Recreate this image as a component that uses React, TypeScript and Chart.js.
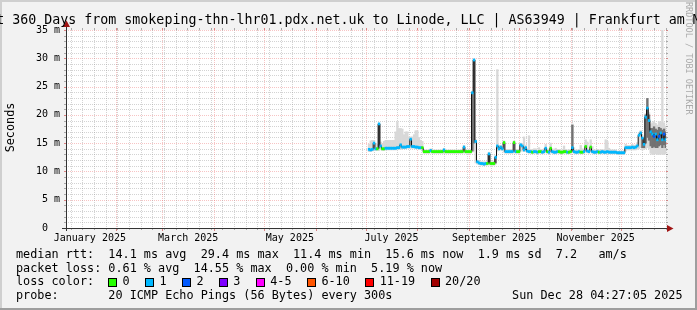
import React, { useEffect, useRef } from 'react';
import { Chart, registerables } from 'chart.js';

Chart.register(...registerables);

const FONT = 'DejaVu Sans Mono';

// ---- time axis (days since 1 Jan 2025) ----
const xMax = 361.185; // Sun Dec 28 04:27
const xMin = xMax - 360; // last 360 days
const monthLabels = ['January 2025', 'March 2025', 'May 2025', 'July 2025', 'September 2025', 'November 2025'];
const monthLabelDays = [15.5, 74.5, 135.5, 196.5, 258, 319];
const monthStartDays = [31, 59, 90, 120, 151, 181, 212, 243, 273, 304, 334];
const firstSunday = 4; // Sun 5 Jan 2025
const firstDataDay = 183; // first day with data (3 Jul 2025)

// ---- y axis ----
const yLabelValues = [0, 5, 10, 15, 20, 25, 30, 35];

// ---- median RTT per day (ms), days 183..361 ----
const medianRtt = [
  13.9, 13.8, 13.9, 15.0, 14.0, 14.0, 18.4, 14.5, 14.0, 14.0,
  14.1, 14.1, 14.1, 14.1, 14.1, 14.1, 14.1, 14.2, 14.2, 14.7,
  14.3, 14.3, 14.3, 14.4, 14.4, 15.7, 14.4, 14.4, 14.3, 14.3,
  14.2, 14.2, 14.2, 13.5, 13.5, 13.5, 13.5, 13.7, 13.5, 13.5,
  13.5, 13.5, 13.5, 13.5, 13.5, 13.8, 13.5, 13.5, 13.5, 13.5,
  13.5, 13.5, 13.5, 13.5, 13.5, 13.5, 13.5, 14.3, 13.5, 13.5,
  13.5, 13.5, 23.9, 29.7, 15.3, 11.7, 11.5, 11.4, 11.4, 11.3,
  11.4, 11.4, 13.1, 11.4, 11.4, 11.4, 12.5, 14.5, 14.0, 14.3,
  14.0, 15.1, 13.5, 13.5, 13.5, 13.5, 13.5, 15.1, 13.5, 13.5,
  13.5, 14.7, 14.5, 13.8, 14.2, 13.6, 13.5, 13.5, 13.4, 13.5,
  13.5, 13.4, 13.5, 13.5, 13.4, 13.5, 14.1, 13.5, 13.4, 14.1,
  13.5, 13.4, 13.4, 13.5, 13.5, 13.4, 13.4, 13.5, 13.5, 13.4,
  13.4, 13.5, 14.2, 13.5, 13.4, 13.4, 13.5, 13.4, 13.4, 13.5,
  14.4, 13.6, 13.5, 14.3, 13.5, 13.4, 13.4, 13.5, 13.4, 13.4,
  13.5, 13.4, 13.4, 13.5, 13.4, 13.4, 13.4, 13.4, 13.4, 13.3,
  13.3, 13.3, 13.3, 13.3, 14.2, 14.2, 14.2, 14.2, 14.3, 14.2,
  14.3, 14.5, 16.4, 16.8, 15.9, 14.8, 19.6, 21.2, 19.0, 17.0,
  16.6, 16.2, 16.6, 15.6, 16.2, 16.8, 15.6, 16.6, 15.6,
];

// ---- loss class per day (index into lossColors) ----
const lossClass = [
  1, 1, 1, 1, 1, 0, 1, 1, 0, 0,
  1, 1, 1, 1, 1, 1, 1, 1, 1, 1,
  1, 1, 1, 1, 1, 1, 1, 1, 1, 1,
  1, 1, 0, 0, 0, 0, 0, 1, 0, 0,
  0, 0, 0, 0, 0, 1, 0, 0, 0, 0,
  0, 0, 0, 0, 0, 0, 0, 1, 0, 0,
  0, 0, 1, 1, 1, 1, 1, 1, 1, 1,
  1, 0, 1, 0, 0, 0, 1, 1, 1, 1,
  1, 0, 1, 1, 1, 1, 1, 0, 1, 0,
  0, 1, 1, 1, 1, 1, 1, 1, 0, 1,
  1, 1, 0, 0, 1, 1, 1, 0, 1, 0,
  1, 1, 1, 1, 0, 0, 0, 0, 0, 1,
  0, 0, 1, 1, 1, 1, 1, 0, 0, 1,
  0, 1, 1, 0, 1, 1, 1, 1, 0, 1,
  1, 1, 1, 1, 1, 1, 1, 1, 1, 1,
  1, 1, 1, 1, 1, 1, 1, 1, 1, 1,
  1, 1, 1, 1, 1, 1, 1, 1, 1, 1,
  1, 2, 1, 1, 2, 1, 1, 2, 1,
];

// ---- smoke (light) range per day ----
const smokeLo = [
  13.5, 13.5, 13.6, 13.7, 13.7, 13.7, 13.7, 13.9, 13.7, 13.7,
  13.8, 13.8, 13.8, 13.8, 13.8, 13.8, 13.8, 13.9, 13.9, 13.9,
  14.0, 14.0, 14.0, 14.1, 14.1, 14.1, 14.1, 14.1, 14.0, 14.0,
  13.9, 13.9, 13.9, 13.2, 13.2, 13.2, 13.2, 13.3, 13.2, 13.2,
  13.2, 13.2, 13.2, 13.2, 13.2, 13.2, 13.2, 13.2, 13.2, 13.2,
  13.2, 13.2, 13.2, 13.2, 13.2, 13.2, 13.2, 13.3, 13.2, 13.2,
  13.2, 13.2, 13.4, 13.6, 11.5, 11.3, 11.2, 11.1, 11.1, 11.0,
  11.1, 11.1, 11.2, 11.1, 11.1, 11.1, 11.3, 13.6, 13.7, 13.8,
  13.7, 13.4, 13.2, 13.2, 13.2, 13.2, 13.2, 13.3, 13.2, 13.2,
  13.2, 13.6, 13.6, 13.5, 13.5, 13.3, 13.2, 13.2, 13.1, 13.2,
  13.2, 13.1, 13.2, 13.2, 13.1, 13.2, 13.4, 13.2, 13.1, 13.4,
  13.2, 13.1, 13.1, 13.2, 13.2, 13.1, 13.1, 13.2, 13.2, 13.1,
  13.1, 13.2, 13.4, 13.2, 13.1, 13.1, 13.2, 13.1, 13.1, 13.2,
  13.6, 13.3, 13.2, 13.6, 13.2, 13.1, 13.1, 13.2, 13.1, 13.1,
  13.2, 13.1, 13.1, 13.2, 13.1, 13.1, 13.1, 13.1, 13.1, 13.0,
  13.0, 13.0, 13.0, 13.0, 13.6, 13.8, 13.8, 13.8, 13.8, 13.8,
  13.8, 13.9, 14.0, 14.2, 13.8, 13.9, 14.0, 14.2, 14.0, 13.2,
  13.0, 13.0, 13.1, 13.0, 13.0, 13.1, 13.0, 13.0, 13.1,
];
const smokeHi = [
  14.8, 15.4, 15.5, 15.5, 15.0, 14.8, 18.4, 15.2, 14.8, 15.3,
  15.5, 15.5, 15.5, 15.5, 15.5, 15.5, 17.0, 18.8, 17.6, 17.6,
  17.5, 16.5, 17.0, 17.0, 16.1, 16.1, 16.1, 16.5, 17.2, 17.2,
  16.0, 15.5, 15.3, 13.9, 13.8, 13.8, 13.8, 14.0, 13.8, 13.8,
  13.8, 13.8, 13.8, 13.8, 13.8, 14.1, 13.8, 13.8, 13.8, 13.8,
  13.8, 13.8, 13.8, 13.8, 13.8, 13.8, 13.9, 14.6, 13.8, 13.8,
  13.8, 13.9, 24.2, 29.8, 15.6, 12.0, 11.8, 11.7, 11.7, 11.7,
  11.7, 11.7, 13.4, 11.7, 11.7, 11.8, 12.8, 28.0, 14.6, 14.6,
  14.4, 15.4, 13.9, 13.9, 13.9, 13.9, 13.9, 15.4, 13.9, 13.9,
  13.9, 15.0, 14.9, 16.1, 14.6, 14.0, 16.3, 13.9, 13.8, 14.0,
  14.0, 13.8, 14.2, 13.9, 13.8, 14.0, 14.8, 14.0, 13.8, 15.0,
  14.0, 13.8, 14.1, 13.9, 13.9, 13.8, 13.8, 14.5, 13.9, 13.8,
  13.8, 13.9, 18.4, 14.2, 13.8, 13.8, 13.9, 14.6, 14.0, 13.9,
  15.6, 15.2, 13.9, 15.6, 14.4, 13.8, 13.8, 13.9, 13.8, 13.8,
  13.9, 13.8, 15.6, 15.3, 14.1, 13.8, 13.8, 13.8, 13.8, 13.6,
  13.6, 13.6, 13.6, 13.7, 14.8, 14.6, 14.6, 14.6, 14.8, 14.6,
  14.7, 15.1, 16.8, 17.2, 16.4, 16.0, 20.2, 22.9, 20.4, 18.3,
  18.6, 18.8, 18.5, 18.2, 18.8, 18.7, 35.0, 18.6, 18.0,
];

// ---- dense (dark) smoke where visible ----
const darkDays = [189, 245, 246, 255, 259, 262, 277, 305, 347, 348, 349, 350, 351, 352, 353, 354, 355, 356, 357, 358, 359, 360, 361];
const darkLo = [14.1, 13.6, 15.0, 11.5, 11.5, 14.0, 13.8, 13.6, 14.2, 14.2, 15.0, 16.0, 15.5, 14.5, 14.2, 14.4, 14.2, 14.2, 14.5, 14.7, 14.2, 14.7, 14.2];
const darkHi = [18.4, 23.9, 29.7, 13.1, 12.5, 14.3, 14.2, 18.2, 16.0, 15.2, 20.0, 22.9, 20.0, 17.6, 17.6, 17.9, 17.5, 17.3, 17.8, 17.6, 17.3, 17.5, 17.0];

// ---- legend ----
const lossLabels = ['0', '1', '2', '3', '4-5', '6-10', '11-19', '20/20'];
const lossColors = ['#26ff00', '#00b8ff', '#0059ff', '#7e00ff', '#ff00ff', '#ff5500', '#ff0000', '#a10000'];
const TITLE = 'Last 360 Days from smokeping-thn-lhr01.pdx.net.uk to Linode, LLC | AS63949 | Frankfurt am Main';
const ROW_RTT = 'median rtt:  14.1 ms avg  29.4 ms max  11.4 ms min  15.6 ms now  1.9 ms sd  7.2   am/s';
const ROW_LOSS = 'packet loss: 0.61 % avg  14.55 % max  0.00 % min  5.19 % now';
const ROW_COLOR = 'loss color:';
const ROW_PROBE = 'probe:       20 ICMP Echo Pings (56 Bytes) every 300s';
const STAMP = 'Sun Dec 28 04:27:05 2025';
const WATERMARK = 'RRDTOOL / TOBI OETIKER';
const Y_TITLE = 'Seconds';

const MINOR = 'rgba(150,150,150,0.42)';
const MINOR_TICK = 'rgba(120,120,120,0.6)';
const MAJOR = 'rgba(230,70,70,0.32)';
const MAJOR_TICK = 'rgba(200,40,40,0.55)';

function dotted(ctx: CanvasRenderingContext2D, x1: number, y1: number, x2: number, y2: number, color: string) {
  ctx.strokeStyle = color;
  ctx.lineWidth = 1;
  ctx.setLineDash([1, 1]);
  ctx.beginPath();
  ctx.moveTo(x1, y1);
  ctx.lineTo(x2, y2);
  ctx.stroke();
}
function solid(ctx: CanvasRenderingContext2D, x1: number, y1: number, x2: number, y2: number, color: string) {
  ctx.strokeStyle = color;
  ctx.lineWidth = 1;
  ctx.setLineDash([]);
  ctx.beginPath();
  ctx.moveTo(x1, y1);
  ctx.lineTo(x2, y2);
  ctx.stroke();
}

const rrdPlugin = {
  id: 'rrdLook',
  beforeDraw(chart: any) {
    const { ctx, width, height, chartArea: a } = chart;
    ctx.save();
    ctx.fillStyle = '#f2f2f2';
    ctx.fillRect(0, 0, width, height);
    ctx.fillStyle = '#cfcfcf';
    ctx.fillRect(0, 0, width, 2);
    ctx.fillRect(0, 0, 2, height);
    ctx.fillStyle = '#9e9e9e';
    ctx.fillRect(0, height - 2, width, 2);
    ctx.fillRect(width - 2, 0, 2, height);
    ctx.fillStyle = '#ffffff';
    ctx.fillRect(a.left, a.top, a.right - a.left, a.bottom - a.top);
    ctx.restore();
  },
  beforeDatasetsDraw(chart: any) {
    const { ctx, chartArea: a, scales } = chart;
    const xs = scales.x;
    const ys = scales.y;
    ctx.save();
    // horizontal grid
    for (let v = 1; v <= 35; v++) {
      const y = Math.round(ys.getPixelForValue(v)) + 0.5;
      const major = v % 5 === 0;
      const c = major ? MAJOR : MINOR;
      const t = major ? MAJOR_TICK : MINOR_TICK;
      solid(ctx, a.left - 2, y, a.left, y, t);
      solid(ctx, a.right, y, a.right + 2, y, t);
      dotted(ctx, a.left, y, a.right, y, c);
    }
    // vertical grid: weeks (minor) and months (major)
    for (let d = firstSunday; d <= xMax; d += 7) {
      if (d < xMin || monthStartDays.includes(d)) continue;
      const x = Math.round(xs.getPixelForValue(d)) + 0.5;
      solid(ctx, x, a.bottom, x, a.bottom + 2, MINOR_TICK);
      solid(ctx, x, a.top - 2, x, a.top, MINOR_TICK);
      dotted(ctx, x, a.top, x, a.bottom, MINOR);
    }
    for (const d of monthStartDays) {
      if (d < xMin) continue;
      const x = Math.round(xs.getPixelForValue(d)) + 0.5;
      solid(ctx, x, a.bottom, x, a.bottom + 3, MAJOR_TICK);
      solid(ctx, x, a.top - 2, x, a.top, MAJOR_TICK);
      dotted(ctx, x, a.top, x, a.bottom, MAJOR);
    }
    ctx.restore();
  },
  afterDatasetsDraw(chart: any) {
    const { ctx, chartArea: a } = chart;
    ctx.save();
    const ax = Math.round(a.left) + 0.5;
    const ay = Math.round(a.bottom) + 0.5;
    solid(ctx, ax, a.bottom + 3, ax, a.top - 6, '#333333');
    solid(ctx, a.left - 4, ay, a.right + 4, ay, '#333333');
    ctx.fillStyle = '#a01414';
    ctx.beginPath();
    ctx.moveTo(ax - 3.5, a.top - 3);
    ctx.lineTo(ax + 3.5, a.top - 3);
    ctx.lineTo(ax, a.top - 9.5);
    ctx.closePath();
    ctx.fill();
    ctx.beginPath();
    ctx.moveTo(a.right + 1, ay - 3.5);
    ctx.lineTo(a.right + 1, ay + 3.5);
    ctx.lineTo(a.right + 7.5, ay);
    ctx.closePath();
    ctx.fill();
    ctx.restore();
  },
  afterDraw(chart: any) {
    const { ctx, width } = chart;
    ctx.save();
    ctx.fillStyle = '#000';
    ctx.textBaseline = 'alphabetic';
    // title
    ctx.font = `13.3px "${FONT}"`;
    ctx.textAlign = 'center';
    ctx.fillText(TITLE, width / 2, 24);
    // legend rows
    ctx.font = `11.8px "${FONT}"`;
    ctx.textAlign = 'left';
    const cw = ctx.measureText('0').width;
    ctx.fillText(ROW_RTT, 16, 258);
    ctx.fillText(ROW_LOSS, 16, 271.7);
    ctx.fillText(ROW_COLOR, 16, 285.4);
    ctx.fillText(ROW_PROBE, 16, 299.1);
    ctx.textAlign = 'right';
    ctx.fillText(STAMP, 682.5, 299.1);
    ctx.textAlign = 'left';
    let bx = 16 + 13 * cw;
    lossLabels.forEach((lab, i) => {
      const x0 = Math.round(bx);
      ctx.fillStyle = lossColors[i];
      ctx.fillRect(x0, 278, 9, 9);
      ctx.strokeStyle = '#000';
      ctx.lineWidth = 1;
      ctx.setLineDash([]);
      ctx.strokeRect(x0 + 0.5, 278.5, 8, 8);
      ctx.fillStyle = '#000';
      const lx = bx + 2 * cw;
      ctx.fillText(lab, lx, 285.4);
      bx = lx + lab.length * cw + 2.2 * cw;
    });
    // y axis title
    ctx.save();
    ctx.translate(11, 127.5);
    ctx.rotate(-Math.PI / 2);
    ctx.textAlign = 'center';
    ctx.textBaseline = 'middle';
    ctx.fillText(Y_TITLE, 0, 0);
    ctx.restore();
    // watermark
    ctx.save();
    ctx.translate(688.5, 2);
    ctx.rotate(Math.PI / 2);
    ctx.font = `8.5px "${FONT}"`;
    ctx.fillStyle = '#aaaaaa';
    ctx.textAlign = 'left';
    ctx.textBaseline = 'middle';
    ctx.fillText(WATERMARK, 0, 0);
    ctx.restore();
    ctx.restore();
  },
};

export default function App() {
  const ref = useRef<HTMLCanvasElement>(null);
  useEffect(() => {
    document.body.style.margin = '0';
    const canvas = ref.current;
    if (!canvas) return;
    const days = medianRtt.map((_, i) => firstDataDay + i);
    const barCommon = { grouped: false, barPercentage: 1, categoryPercentage: 1, borderWidth: 0 };
    const chart = new Chart(canvas, {
      type: 'bar',
      data: {
        datasets: [
          {
            type: 'bar', label: 'smoke',
            data: days.map((x, i) => ({ x, y: [smokeLo[i], smokeHi[i]] })),
            backgroundColor: '#d8d8d8', order: 5, ...barCommon,
          } as any,
          {
            type: 'bar', label: 'dense smoke',
            data: darkDays.map((x, i) => ({ x, y: [darkLo[i], darkHi[i]] })),
            backgroundColor: '#727272', order: 4, ...barCommon,
          } as any,
          {
            type: 'line', label: 'median rtt',
            data: days.map((x, i) => ({ x, y: medianRtt[i] })),
            borderColor: '#111111', borderWidth: 1, pointRadius: 0, stepped: 'middle', order: 3,
          } as any,
          {
            type: 'bar', label: 'loss color',
            data: days.map((x, i) => ({ x, y: [medianRtt[i] - 0.19, medianRtt[i] + 0.19] })),
            backgroundColor: lossClass.map((c) => lossColors[c]), order: 2, ...barCommon,
          } as any,
        ],
      },
      options: {
        responsive: false,
        animation: false,
        events: [],
        layout: { padding: { left: 0, right: 31, top: 30, bottom: 0 } },
        plugins: { legend: { display: false }, tooltip: { enabled: false }, title: { display: false } },
        scales: {
          x: {
            type: 'linear', min: xMin, max: xMax, offset: false,
            grid: { display: false, drawTicks: false }, border: { display: false },
            afterBuildTicks: (s: any) => { s.ticks = monthLabelDays.map((v) => ({ value: v })); },
            afterFit: (s: any) => { s.height = 82; },
            ticks: {
              autoSkip: false, maxRotation: 0, minRotation: 0, padding: 4, color: '#000',
              font: { family: FONT, size: 10 },
              callback: (_v: any, i: number) => monthLabels[i],
            },
          },
          y: {
            type: 'linear', min: 0, max: 35,
            grid: { display: false, drawTicks: false }, border: { display: false },
            afterBuildTicks: (s: any) => { s.ticks = yLabelValues.map((v) => ({ value: v })); },
            afterFit: (s: any) => { s.width = 66; },
            ticks: {
              padding: 6, color: '#000', font: { family: FONT, size: 10 },
              callback: (v: any) => (v === 0 ? '0  ' : `${v} m`),
            },
          },
        },
      } as any,
      plugins: [rrdPlugin],
    });
    return () => chart.destroy();
  }, []);
  return (
    <div style={{ width: 697, height: 310 }}>
      <canvas ref={ref} width={697} height={310} style={{ display: 'block' }} />
    </div>
  );
}
